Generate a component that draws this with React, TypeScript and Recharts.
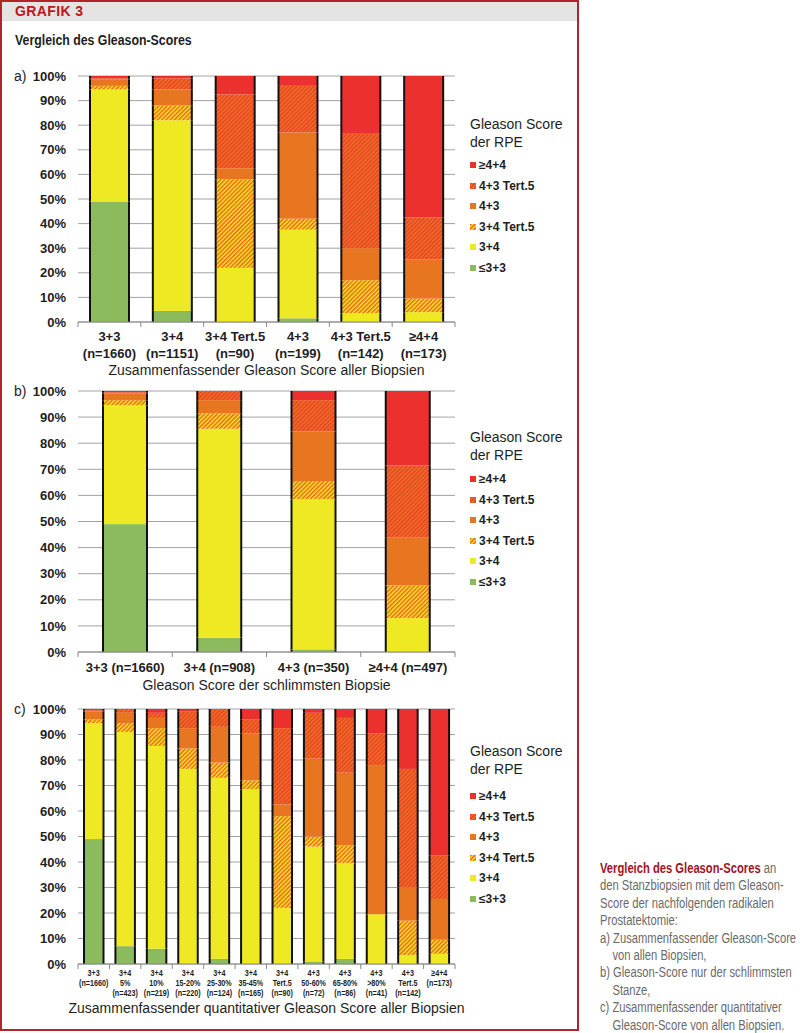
import React from 'react';
import { BarChart, Bar, XAxis, YAxis, CartesianGrid } from 'recharts';

// Gleason Score der RPE (stack order bottom -> top)
const seriesKeys = ['le33', 'p34', 'p34t', 'p43', 'p43t', 'ge44'];
const seriesNames = ['≤3+3', '3+4', '3+4 Tert.5', '4+3', '4+3 Tert.5', '≥4+4'];
const yTicks = [0, 10, 20, 30, 40, 50, 60, 70, 80, 90, 100];

// a) Zusammenfassender Gleason Score aller Biopsien
const labelsA = ['3+3\n(n=1660)', '3+4\n(n=1151)', '3+4 Tert.5\n(n=90)', '4+3\n(n=199)', '4+3 Tert.5\n(n=142)', '≥4+4\n(n=173)'];
const aLe33 = [49, 4.5, 0, 1.5, 0, 0];
const aP34 = [45.5, 77.5, 22, 36, 3.5, 4];
const aP34t = [1.5, 6, 36, 4.5, 13.5, 5.5];
const aP43 = [2.5, 6.5, 4.5, 35, 13, 16];
const aP43t = [0.5, 4.5, 30, 19, 46.5, 17];
const aGe44 = [1, 1, 7.5, 4, 23.5, 57.5];

// b) Gleason Score der schlimmsten Biopsie
const labelsB = ['3+3 (n=1660)', '3+4 (n=908)', '4+3 (n=350)', '≥4+4 (n=497)'];
const bLe33 = [49, 5.5, 1, 0];
const bP34 = [45.5, 80, 57.5, 13];
const bP34t = [2, 6, 7, 12.5];
const bP43 = [2.5, 5, 19, 18.5];
const bP43t = [0.5, 3.5, 12, 27.5];
const bGe44 = [0.5, 0, 3.5, 28.5];

// c) Zusammenfassender quantitativer Gleason Score aller Biopsien
const labelsC = [
  '3+3\n(n=1660)', '3+4\n5%\n(n=423)', '3+4\n10%\n(n=219)', '3+4\n15-20%\n(n=220)',
  '3+4\n25-30%\n(n=124)', '3+4\n35-45%\n(n=165)', '3+4\nTert.5\n(n=90)', '4+3\n50-60%\n(n=72)',
  '4+3\n65-80%\n(n=86)', '4+3\n>80%\n(n=41)', '4+3\nTert.5\n(n=142)', '≥4+4\n(n=173)',
];
const cLe33 = [49, 7, 6, 0, 2, 0, 0, 1, 2, 0, 0, 0];
const cP34 = [45.5, 84, 79.5, 76.5, 71, 68.5, 22, 45, 37.5, 19.5, 3.5, 4];
const cP34t = [1.5, 3.5, 7, 8, 6, 3.5, 36, 4, 7, 0, 13.5, 5.5];
const cP43 = [3, 4, 4, 8, 14, 18.5, 4.5, 30.5, 28.5, 58.5, 13, 16];
const cP43t = [0.5, 1.5, 2, 6.5, 7, 5.5, 30, 18, 21.5, 12.5, 46.5, 17];
const cGe44 = [0.5, 0, 1.5, 1, 0, 4, 7.5, 1.5, 3.5, 9.5, 23.5, 57.5];

const RED = '#ec302d';
const ORANGE = '#e8751f';
const YELLOW = '#eee923';
const GREEN = '#8cbb5d';

const SANS = '"Liberation Sans", Arial, sans-serif';

const rows = (labels: string[], cols: number[][]) =>
  labels.map((label, i) => {
    const r: any = { label };
    seriesKeys.forEach((k, j) => (r[k] = cols[j][i]));
    return r;
  });

const dataA = rows(labelsA, [aLe33, aP34, aP34t, aP43, aP43t, aGe44]);
const dataB = rows(labelsB, [bLe33, bP34, bP34t, bP43, bP43t, bGe44]);
const dataC = rows(labelsC, [cLe33, cP34, cP34t, cP43, cP43t, cGe44]);

const fillsFor = (p: string) => [GREEN, YELLOW, `url(#${p}-hy)`, ORANGE, `url(#${p}-ho)`, RED];

const CHART_W = 465;
const PLOT_L = 78;
const PLOT_W = 377;

function Patterns({ p }: { p: string }) {
  return (
    <defs>
      <pattern id={`${p}-hy`} width={3} height={3} patternUnits="userSpaceOnUse" patternTransform="rotate(45)">
        <rect width={3} height={3} fill={YELLOW} />
        <rect width={1.4} height={3} fill="#ef5c22" />
      </pattern>
      <pattern id={`${p}-ho`} width={3} height={3} patternUnits="userSpaceOnUse" patternTransform="rotate(45)">
        <rect width={3} height={3} fill={ORANGE} />
        <rect width={1.4} height={3} fill="#ee3a2b" />
      </pattern>
    </defs>
  );
}

const SideBar = (props: any) => {
  const { x, y, width, height, fill } = props;
  if (!height || height <= 0) return null;
  return (
    <g>
      <rect x={x} y={y} width={width} height={height} fill={fill} />
      <line x1={x} x2={x} y1={y} y2={y + height} stroke="#111" strokeWidth={2} />
      <line x1={x + width} x2={x + width} y1={y} y2={y + height} stroke="#111" strokeWidth={2} />
    </g>
  );
};

function makeTick(n: number, fontSize: number, sx: number, first: number, gap: number) {
  const step = PLOT_W / n;
  return (props: any) => {
    const { x, y, payload, index } = props;
    const lines = String(payload.value).split('\n');
    return (
      <g>
        <line x1={x - step / 2} x2={x - step / 2} y1={y} y2={y + 5} stroke="#8a8a8a" />
        {index === n - 1 && <line x1={x + step / 2} x2={x + step / 2} y1={y} y2={y + 5} stroke="#8a8a8a" />}
        <g transform={`translate(${x} 0) scale(${sx} 1)`}>
          <text x={0} y={y + first} textAnchor="middle" fontSize={fontSize} fontWeight="bold" fontFamily={SANS} fill="#1e1e1e">
            {lines.map((l, k) => (
              <tspan key={k} x={0} dy={k === 0 ? 0 : gap}>
                {l}
              </tspan>
            ))}
          </text>
        </g>
      </g>
    );
  };
}

interface StackProps {
  p: string;
  data: any[];
  top: number;
  marginTop: number;
  plotH: number;
  axisH: number;
  barSize: number;
  tickFont: number;
  tickScale: number;
  firstLine: number;
  lineGap: number;
  title: string;
  titleOffset: number;
}

function StackChart(s: StackProps) {
  const fills = fillsFor(s.p);
  const Tick = makeTick(s.data.length, s.tickFont, s.tickScale, s.firstLine, s.lineGap);
  return (
    <div style={{ position: 'absolute', left: 0, top: s.top }}>
      <BarChart
        width={CHART_W}
        height={s.marginTop + s.plotH + s.axisH}
        data={s.data}
        margin={{ top: s.marginTop, right: CHART_W - PLOT_L - PLOT_W, bottom: 0, left: PLOT_L - 60 }}
        barSize={s.barSize}
        style={{ fontFamily: SANS }}
      >
        <Patterns p={s.p} />
        <CartesianGrid vertical={false} stroke="#a3a3a3" />
        <XAxis
          dataKey="label"
          interval={0}
          height={s.axisH}
          tickSize={0}
          tickMargin={0}
          tickLine={false}
          axisLine={{ stroke: '#8a8a8a' }}
          tick={<Tick />}
          label={{ value: s.title, position: 'insideBottom', offset: s.titleOffset, style: { fontSize: 14, fill: '#1e1e1e', fontFamily: SANS } }}
        />
        <YAxis
          width={60}
          domain={[0, 100]}
          ticks={yTicks}
          tickFormatter={(v) => `${v}%`}
          tickLine={false}
          axisLine={false}
          tickSize={0}
          tickMargin={12}
          tick={{ fontSize: 13, fontWeight: 'bold', fill: '#1e1e1e', fontFamily: SANS }}
        />
        {seriesKeys.map((k, i) => (
          <Bar key={k} dataKey={k} name={seriesNames[i]} stackId="s" fill={fills[i]} shape={SideBar} isAnimationActive={false} />
        ))}
      </BarChart>
    </div>
  );
}

function LegendBox({ p, top, gap }: { p: string; top: number; gap: number }) {
  const fills = fillsFor(p);
  const order = seriesKeys.map((_, i) => i).reverse();
  return (
    <div style={{ position: 'absolute', left: 470, top, fontFamily: SANS, color: '#1e1e1e' }}>
      <div style={{ fontSize: 14, lineHeight: '18px' }}>
        Gleason Score
        <br />
        der RPE
      </div>
      <div style={{ marginTop: gap }}>
        {order.map((i) => (
          <div key={i} style={{ height: 20.5, display: 'flex', alignItems: 'center', fontSize: 12, fontWeight: 'bold' }}>
            <svg width={6} height={6} style={{ marginRight: 3 }}>
              <rect width={6} height={6} fill={fills[i]} />
            </svg>
            {seriesNames[i]}
          </div>
        ))}
      </div>
    </div>
  );
}

const panelLabel = (text: string, top: number) => (
  <div style={{ position: 'absolute', left: 14, top: top - 9, fontSize: 14, lineHeight: '18px', fontFamily: SANS, color: '#1e1e1e' }}>
    {text}
  </div>
);

const captionLines = [
  'den Stanzbiopsien mit dem Gleason-',
  'Score der nachfolgenden radikalen',
  'Prostatektomie:',
  'a) Zusammenfassender Gleason-Score',
  '    von allen Biopsien,',
  'b) Gleason-Score nur der schlimmsten',
  '    Stanze,',
  'c) Zusammenfassender quantitativer',
  '    Gleason-Score von allen Biopsien.',
];

export default function App() {
  return (
    <div style={{ position: 'absolute', left: 0, top: 0, width: 800, height: 1033, background: '#fff', overflow: 'hidden' }}>
      <div style={{ position: 'absolute', left: 0, top: 0, width: 579, height: 1031, border: '2px solid #b3232a', boxSizing: 'border-box' }} />
      <div style={{ position: 'absolute', left: 2, top: 2, width: 575, height: 19, background: '#e4e4e4' }} />
      <div style={{ position: 'absolute', left: 15, top: 3, fontSize: 14, lineHeight: '17px', fontWeight: 'bold', color: '#c0141c', fontFamily: SANS, letterSpacing: 0.4 }}>
        GRAFIK 3
      </div>
      <div style={{ position: 'absolute', left: 15, top: 31, fontSize: 14, lineHeight: '18px', fontWeight: 'bold', color: '#1e1e1e', fontFamily: SANS, transform: 'scaleX(0.88)', transformOrigin: 'left top', whiteSpace: 'nowrap' }}>
        Vergleich des Gleason-Scores
      </div>

      {panelLabel('a)', 76)}
      <StackChart p="a" data={dataA} top={60} marginTop={16} plotH={246} axisH={68} barSize={39} tickFont={13} tickScale={1} firstLine={18.5} lineGap={17} title="Zusammenfassender Gleason Score aller Biopsien" titleOffset={15} />
      <LegendBox p="a" top={115} gap={4} />

      {panelLabel('b)', 391)}
      <StackChart p="b" data={dataB} top={380} marginTop={11} plotH={261} axisH={48} barSize={44} tickFont={13} tickScale={1} firstLine={19.5} lineGap={0} title="Gleason Score der schlimmsten Biopsie" titleOffset={10} />
      <LegendBox p="b" top={428} gap={5} />

      {panelLabel('c)', 709)}
      <StackChart p="c" data={dataC} top={700} marginTop={9} plotH={255} axisH={60} barSize={19.5} tickFont={9} tickScale={0.8} firstLine={12} lineGap={10} title="Zusammenfassender quantitativer Gleason Score aller Biopsien" titleOffset={11} />
      <LegendBox p="c" top={742} gap={8} />

      <div style={{ position: 'absolute', left: 600, top: 860, fontSize: 14, lineHeight: '17.4px', fontFamily: SANS, color: '#6a6a6a', whiteSpace: 'pre', transform: 'scaleX(0.8)', transformOrigin: 'left top' }}>
        <div>
          <span style={{ color: '#a3121d', fontWeight: 'bold' }}>Vergleich des Gleason-Scores</span> an
        </div>
        {captionLines.map((l, i) => (
          <div key={i}>{l}</div>
        ))}
      </div>
    </div>
  );
}
